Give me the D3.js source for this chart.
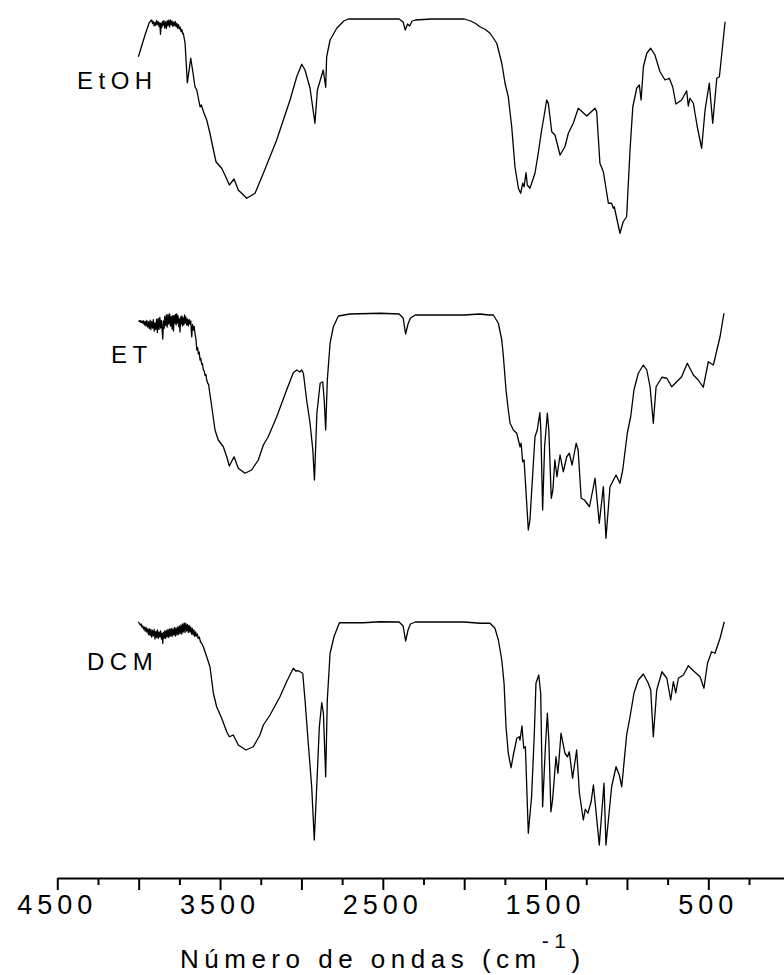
<!DOCTYPE html>
<html>
<head>
<meta charset="utf-8">
<script src="https://cdn.jsdelivr.net/npm/d3@7/dist/d3.min.js"></script>
<style>
  html, body { margin: 0; padding: 0; background: #fff; }
  svg { display: block; }
</style>
</head>
<body>
<div id="chart"></div>
<script>
// FTIR spectra of three extracts: [wavenumber (cm-1), relative transmittance]
const seriesNames = ["EtOH", "ET", "DCM"];

const etohSpectrum = [
  [4002,84.5],[3961,93.2],[3935,98.2],[3920,99.2],[3915,97.8],[3910,98.6],[3905,96.9],[3900,98.2],
  [3895,97.0],[3890,99.0],[3885,97.4],[3880,98.5],[3875,96.6],[3870,98.1],[3866,93.5],[3862,97.8],
  [3858,96.2],[3854,98.6],[3850,97.1],[3845,98.9],[3840,96.0],[3835,98.4],[3830,95.8],[3825,98.9],
  [3820,96.9],[3815,99.1],[3810,96.4],[3805,99.2],[3800,97.3],[3795,98.8],[3790,96.6],[3785,98.3],
  [3780,97.0],[3775,98.6],[3770,96.5],[3765,97.8],[3760,95.9],[3755,97.3],[3750,95.6],[3745,96.4],
  [3740,94.6],[3735,95.4],[3730,93.8],[3726,93.9],[3715,90],[3701,74.1],[3680,83.9],[3665,77.5],
  [3654,72.5],[3643,71.2],[3623,64.5],[3615,65.2],[3600,62.2],[3582,59.2],[3562,53.9],[3545,48.5],
  [3525,42.5],[3490,39.9],[3470,37.2],[3443,33.2],[3414,35.6],[3388,31.2],[3336,27.9],[3285,29.9],
  [3234,37.9],[3152,51.2],[3070,67.2],[3029,76.5],[2998,81.5],[2978,79.2],[2947,71.9],[2917,57.9],
  [2902,71.2],[2866,79.2],[2851,72.3],[2845,84.5],[2824,91.2],[2783,95.9],[2740,98.8],[2712,99.6],
  [2517,99.6],[2400,99.6],[2375,98.4],[2362,95.2],[2348,97.6],[2335,96.8],[2320,98.8],[2300,99.2],
  [2200,99.6],[2000,99.6],[1960,98.8],[1930,97.8],[1903,96.5],[1870,95.4],[1841,93.9],[1800,89.9],
  [1769,81.9],[1749,73.9],[1729,68.5],[1708,56.5],[1688,40.5],[1667,31.9],[1653,29.9],[1640,33.9],
  [1632,32.5],[1620,38.1],[1612,33.2],[1596,31.9],[1565,37.9],[1545,45.9],[1524,55.2],[1510,60.5],
  [1493,67.2],[1483,65.9],[1462,54.5],[1442,53.2],[1411,45.2],[1381,48.5],[1360,53.9],[1330,57.9],
  [1299,63.9],[1247,60.8],[1196,63.9],[1186,62.5],[1166,41.9],[1145,38.5],[1114,25.9],[1094,25.9],
  [1084,23.9],[1078,24.5],[1043,13.9],[1023,18.5],[1002,20.5],[981,47.2],[964,64.5],[940,71.9],
  [924,73.2],[913,67.2],[899,80.5],[878,85.9],[854,87.9],[828,85.2],[797,78.5],[766,75.2],
  [740,75.9],[719,72.5],[699,65.6],[664,67.2],[633,70.9],[623,64.8],[613,67.9],[592,65.9],
  [568,56.5],[541,47.9],[520,63.2],[494,73.9],[473,57.9],[448,75.9],[432,76.5],[397,98.5]
];

const etSpectrum = [
  [4002,96.9],[3995,96.6],[3990,97.0],[3985,96.2],[3980,96.8],[3975,95.9],[3970,96.9],[3965,95.2],
  [3960,96.6],[3955,94.8],[3950,97.0],[3945,94.4],[3940,96.5],[3935,93.8],[3930,97.1],[3925,93.4],
  [3920,96.6],[3915,94.0],[3910,97.3],[3905,92.8],[3900,96.0],[3895,93.4],[3890,97.5],[3885,92.2],
  [3880,97.8],[3875,93.5],[3870,98.2],[3865,94.0],[3860,97.0],[3855,92.5],[3852,89.6],[3848,96.8],
  [3844,93.8],[3840,98.6],[3835,95.0],[3830,99.2],[3825,94.4],[3820,99.4],[3815,95.6],[3810,99.6],
  [3805,94.8],[3800,98.6],[3795,93.6],[3790,99.0],[3786,92.8],[3782,98.8],[3778,96.0],[3774,99.4],
  [3770,95.2],[3766,99.6],[3762,96.0],[3758,98.8],[3754,94.6],[3750,97.6],[3746,92.4],[3742,98.4],
  [3738,95.6],[3734,98.8],[3730,94.8],[3726,98.0],[3722,95.4],[3718,99.2],[3714,96.0],[3710,98.4],
  [3705,95.2],[3700,97.6],[3695,94.8],[3690,97.4],[3685,95.6],[3680,96.8],[3674,90.5],[3669,95.4],
  [3664,93.2],[3659,94.6],[3654,91.8],[3648,89.6],[3643,85.2],[3638,86.2],[3633,83.6],[3628,84.4],
  [3623,81.2],[3618,81.8],[3613,79.4],[3608,79.8],[3603,77.2],[3598,77.0],[3592,75.0],[3587,75.4],
  [3582,73.2],[3575,71.8],[3570,71.4],[3566,69.2],[3551,62.5],[3531,53.2],[3511,49.2],[3480,46.5],
  [3459,42.5],[3443,38.8],[3414,42.5],[3388,37.9],[3347,35.9],[3306,37.2],[3265,41.2],[3234,47.2],
  [3204,50.5],[3152,58.5],[3091,69.2],[3050,76.1],[3029,77.2],[3010,76.4],[2998,77.2],[2988,75.9],
  [2968,65.2],[2947,55.9],[2930,45.2],[2920,33.2],[2905,59.9],[2885,71.9],[2869,72.5],[2860,65.2],
  [2851,53.2],[2841,73.2],[2824,87.9],[2804,94.5],[2773,98.8],[2702,99.6],[2517,99.9],[2400,99.6],
  [2375,98],[2360,91.6],[2345,95.6],[2330,98],[2300,99.2],[2000,99.2],[1903,99.6],[1850,99.2],
  [1821,99.2],[1790,95.9],[1769,89.2],[1759,82.5],[1743,69.2],[1729,61.2],[1718,55.9],[1698,53.2],
  [1677,51.9],[1657,46.5],[1650,47.9],[1641,40.5],[1632,41.2],[1606,13.2],[1596,17.2],[1575,39.9],
  [1565,50.5],[1551,53.2],[1535,60.1],[1529,53.2],[1518,21.2],[1506,46.5],[1489,59.9],[1480,53.2],
  [1465,25.9],[1455,29.2],[1443,41.2],[1430,34.5],[1411,43.2],[1391,36.5],[1370,42.5],[1354,43.9],
  [1337,39.2],[1312,47.9],[1300,45.2],[1281,25.9],[1261,25.2],[1230,22.5],[1196,33.9],[1170,15.9],
  [1145,30.5],[1129,9.9],[1104,30.5],[1067,35.2],[1043,31.9],[1026,37.2],[998,51.9],[977,58.5],
  [957,69.2],[930,75.9],[899,79.2],[878,77.2],[858,70.5],[838,55.9],[821,70.5],[785,74.3],
  [755,73.9],[725,70.5],[694,72.5],[664,74.5],[629,79.9],[592,75.2],[562,73.2],[531,70.3],
  [500,80.5],[469,79.2],[428,90.5],[404,99.9]
];

const dcmSpectrum = [
  [4002,99.7],[3996,99.0],[3990,98.4],[3985,98.8],[3980,97.6],[3975,98.0],[3970,96.8],[3965,97.6],
  [3960,96.0],[3955,97.4],[3950,95.6],[3945,96.8],[3940,94.6],[3935,96.9],[3930,94.2],[3925,96.6],
  [3920,93.6],[3915,96.2],[3910,94.0],[3905,96.6],[3900,92.8],[3895,95.8],[3890,93.4],[3885,96.4],
  [3880,93.0],[3875,95.6],[3870,93.6],[3865,96.0],[3860,92.8],[3856,95.0],[3852,91.1],[3848,95.4],
  [3844,93.2],[3840,96.0],[3835,93.0],[3830,96.2],[3825,93.6],[3820,96.6],[3815,93.4],[3810,96.8],
  [3805,94.0],[3800,97.0],[3795,93.8],[3790,96.8],[3785,94.4],[3780,97.4],[3775,94.0],[3770,97.2],
  [3765,94.4],[3760,97.6],[3755,94.6],[3750,98.0],[3745,95.0],[3740,98.4],[3735,94.8],[3730,98.8],
  [3725,95.6],[3720,99.2],[3715,95.4],[3710,99.0],[3705,96.0],[3700,98.6],[3695,95.4],[3690,98.2],
  [3685,95.6],[3680,97.6],[3675,94.8],[3670,97.0],[3665,94.4],[3660,96.4],[3655,93.8],[3650,95.6],
  [3645,94.0],[3640,94.8],[3634,93.0],[3628,93.6],[3620,91.6],[3613,91.1],[3600,89.2],[3582,85.7],
  [3562,81.7],[3541,71.1],[3521,65.7],[3490,61.1],[3459,55.7],[3443,53.7],[3419,54.4],[3388,50.4],
  [3341,48.4],[3296,49.7],[3255,54.4],[3234,58.4],[3193,62.4],[3132,69.7],[3091,75.7],[3050,81.1],
  [3035,80],[3019,80.1],[2992,79.1],[2978,68.4],[2958,51.1],[2937,33.7],[2921,12.4],[2906,33.7],
  [2890,57.7],[2875,67.3],[2865,63.1],[2851,37.7],[2841,68.4],[2824,87.1],[2800,93.7],[2767,99.3],
  [2620,99.3],[2517,99.7],[2400,99.6],[2375,98],[2360,92],[2345,96.4],[2330,98.8],[2300,99.6],
  [2000,99.6],[1903,99.1],[1841,99.1],[1811,97.1],[1790,92.4],[1769,84.4],[1755,75.1],[1743,57.7],
  [1729,47.1],[1712,41.3],[1700,45.7],[1677,53.1],[1662,53.7],[1657,52.4],[1645,58],[1634,49.1],
  [1624,49.7],[1606,15.1],[1586,29.7],[1569,55.1],[1559,75.1],[1542,78.4],[1530,71.1],[1518,25.7],
  [1501,49.7],[1489,63.1],[1480,52.4],[1467,23.7],[1457,28.4],[1436,45.7],[1424,39.1],[1405,55.1],
  [1381,47.1],[1365,45.7],[1354,47.7],[1334,37.1],[1309,48.4],[1292,31.1],[1268,20.4],[1256,24.7],
  [1240,23.1],[1220,27.7],[1206,34.4],[1170,10.4],[1141,35.1],[1129,10.4],[1094,33.7],[1067,41.7],
  [1047,38.4],[1032,33.7],[1002,54.4],[981,61.7],[957,71.1],[930,76.4],[899,78.8],[869,75.1],
  [854,72.4],[838,53.7],[817,72.4],[785,79.7],[755,77.1],[731,68.4],[715,75.7],[700,71.3],
  [684,77.1],[653,78.4],[623,82.1],[592,80.1],[551,77.7],[527,73.1],[505,83.1],[480,87.7],
  [459,87.1],[428,93.1],[402,99.7]
];

const majorTicks = [4500, 4000, 3500, 3000, 2500, 2000, 1500, 1000, 500];
const minorTicks = [4250, 3750, 3250, 2750, 2250, 1750, 1250, 750, 250];
const labeledTicks = [4500, 3500, 2500, 1500, 500];

const W = 784, H = 975;
const svg = d3.select("#chart").append("svg")
  .attr("width", W).attr("height", H);

const FONT = "'Liberation Sans', Arial, Helvetica, sans-serif";

// wavenumber axis runs right-to-left
const x = d3.scaleLinear().domain([4500, 0]).range([57.3, 789.7]);
// relative transmittance inside each stacked panel
const y = d3.scaleLinear().domain([0, 100]).range([250, 0]);

const panels = [
  { name: seriesNames[0], data: etohSpectrum, top: 18, lx: 77, ly: 89 },
  { name: seriesNames[1], data: etSpectrum, top: 313, lx: 111, ly: 363 },
  { name: seriesNames[2], data: dcmSpectrum, top: 621, lx: 87, ly: 670 }
];

const line = d3.line().x(d => x(d[0])).y(d => y(d[1]));

panels.forEach(p => {
  const g = svg.append("g").attr("transform", `translate(0,${p.top})`);
  g.append("path")
    .datum(p.data)
    .attr("fill", "none")
    .attr("stroke", "#000")
    .attr("stroke-width", 1.3)
    .attr("stroke-linejoin", "round")
    .attr("d", line);
  svg.append("text")
    .attr("x", p.lx).attr("y", p.ly)
    .attr("font-family", FONT)
    .attr("font-size", 24)
    .attr("letter-spacing", 5.5)
    .attr("fill", "#000")
    .text(p.name);
});

// x axis
const axisY = 878;
const axisG = svg.append("g").attr("transform", `translate(0,${axisY})`);
axisG.call(d3.axisBottom(x).tickValues(majorTicks).tickSize(12).tickSizeOuter(0).tickFormat(""));
axisG.select(".domain").attr("stroke-width", 2.2);
axisG.selectAll(".tick line").attr("stroke-width", 2);

const minorG = svg.append("g").attr("transform", `translate(0,${axisY})`);
minorG.call(d3.axisBottom(x).tickValues(minorTicks).tickSize(7).tickSizeOuter(0).tickFormat(""));
minorG.select(".domain").remove();
minorG.selectAll(".tick line").attr("stroke-width", 2);

svg.append("g").selectAll("text")
  .data(labeledTicks)
  .join("text")
  .attr("x", d => x(d))
  .attr("y", 914)
  .attr("text-anchor", "middle")
  .attr("font-family", FONT)
  .attr("font-size", 27)
  .attr("letter-spacing", 5)
  .attr("fill", "#000")
  .text(d => d);

// axis title with superscript
const title = svg.append("text")
  .attr("x", 180).attr("y", 968)
  .attr("font-family", FONT)
  .attr("font-size", 26)
  .attr("letter-spacing", 5.5)
  .attr("fill", "#000");
title.append("tspan").text("Número de ondas (cm");
title.append("tspan").attr("font-size", 21).attr("dy", -20).text("-1");
title.append("tspan").attr("dy", 20).text(")");
</script>
</body>
</html>
